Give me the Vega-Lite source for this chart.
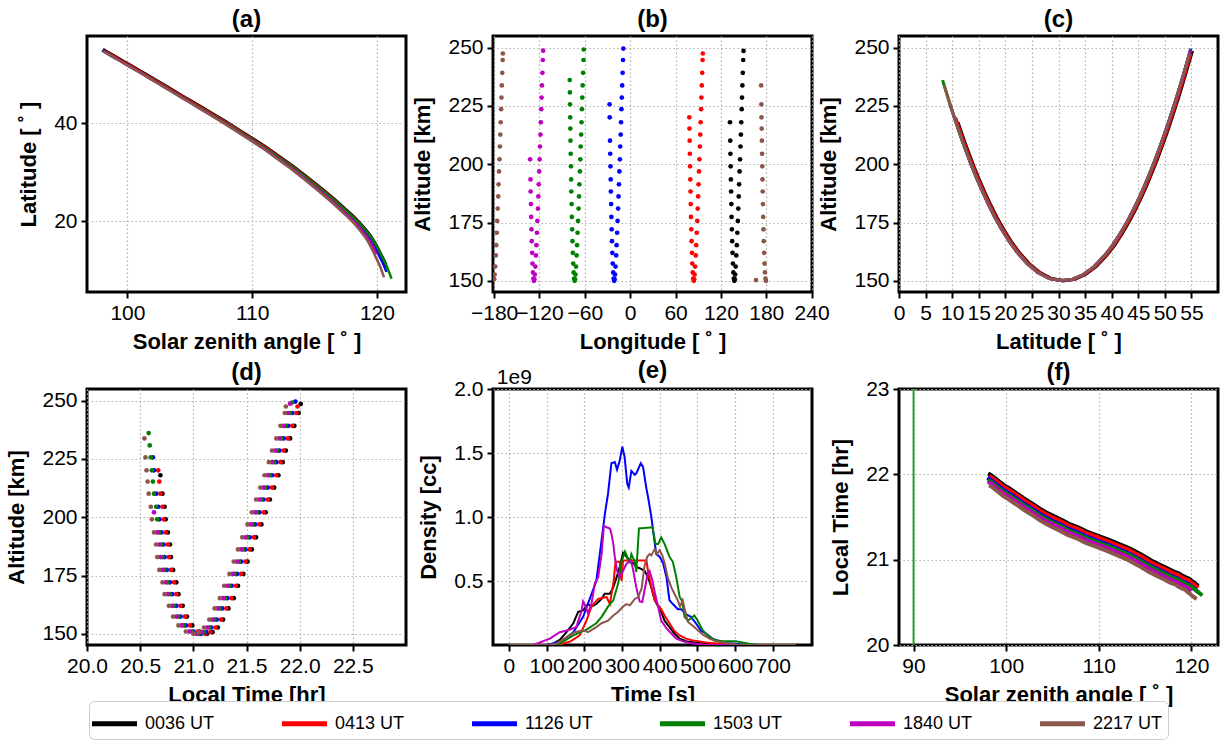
{
"$schema": "https://vega.github.io/schema/vega-lite/v6.json",
"background": "white",
"padding": {"left": 4, "top": 6, "right": 5, "bottom": 5},
"config": {
  "font": "Liberation Sans",
  "view": {"stroke": "black", "strokeWidth": 3},
  "title": {"fontSize": 24, "fontWeight": "bold", "offset": 4, "color": "black"},
  "axis": {"labelFontSize": 21, "titleFontSize": 22, "titleFontWeight": "bold", "labelColor": "black", "titleColor": "black", "tickColor": "black", "tickWidth": 2, "tickSize": 6, "labelPadding": 4, "titlePadding": 8, "domain": false, "grid": true, "gridColor": "#b0b0b0", "gridDash": [1.5, 2.5], "gridWidth": 1.2, "labelOverlap": false, "labelFlush": false, "labelBound": false},
  "axisY": {"titlePadding": 13}
},
"datasets": {
"trk": [
{"s":"0036 UT","lat":11.1,"alt":218.0,"lon":132.0,"lt":20.69,"sza":120.75},
{"s":"0036 UT","lat":12.3,"alt":210.1,"lon":132.4,"lt":20.71,"sza":120.52},
{"s":"0036 UT","lat":13.2,"alt":204.5,"lon":132.6,"lt":20.73,"sza":120.34},
{"s":"0036 UT","lat":14.1,"alt":199.1,"lon":132.9,"lt":20.74,"sza":120.16},
{"s":"0036 UT","lat":15.1,"alt":193.5,"lon":133.2,"lt":20.76,"sza":119.96},
{"s":"0036 UT","lat":16.1,"alt":188.3,"lon":133.5,"lt":20.78,"sza":119.73},
{"s":"0036 UT","lat":17.2,"alt":182.9,"lon":133.8,"lt":20.79,"sza":119.45},
{"s":"0036 UT","lat":18.4,"alt":177.4,"lon":134.1,"lt":20.81,"sza":119.07},
{"s":"0036 UT","lat":19.7,"alt":172.1,"lon":134.5,"lt":20.84,"sza":118.63},
{"s":"0036 UT","lat":21.1,"alt":167.0,"lon":134.9,"lt":20.86,"sza":118.09},
{"s":"0036 UT","lat":22.7,"alt":162.0,"lon":135.4,"lt":20.90,"sza":117.39},
{"s":"0036 UT","lat":24.5,"alt":157.4,"lon":135.9,"lt":20.94,"sza":116.60},
{"s":"0036 UT","lat":26.5,"alt":153.6,"lon":136.5,"lt":20.99,"sza":115.66},
{"s":"0036 UT","lat":28.7,"alt":151.0,"lon":137.1,"lt":21.06,"sza":114.58},
{"s":"0036 UT","lat":31.1,"alt":150.0,"lon":137.8,"lt":21.13,"sza":113.37},
{"s":"0036 UT","lat":33.1,"alt":150.7,"lon":138.3,"lt":21.18,"sza":112.27},
{"s":"0036 UT","lat":35.1,"alt":152.7,"lon":138.9,"lt":21.23,"sza":111.17},
{"s":"0036 UT","lat":37.1,"alt":156.1,"lon":139.6,"lt":21.28,"sza":109.95},
{"s":"0036 UT","lat":39.1,"alt":160.9,"lon":140.4,"lt":21.33,"sza":108.71},
{"s":"0036 UT","lat":40.6,"alt":165.3,"lon":141.0,"lt":21.38,"sza":107.77},
{"s":"0036 UT","lat":42.1,"alt":170.6,"lon":141.7,"lt":21.42,"sza":106.78},
{"s":"0036 UT","lat":43.4,"alt":175.7,"lon":142.4,"lt":21.47,"sza":105.92},
{"s":"0036 UT","lat":44.6,"alt":181.0,"lon":143.0,"lt":21.51,"sza":105.13},
{"s":"0036 UT","lat":45.7,"alt":186.2,"lon":143.6,"lt":21.55,"sza":104.40},
{"s":"0036 UT","lat":46.7,"alt":191.4,"lon":144.1,"lt":21.59,"sza":103.74},
{"s":"0036 UT","lat":47.7,"alt":196.9,"lon":144.7,"lt":21.64,"sza":103.08},
{"s":"0036 UT","lat":48.6,"alt":202.1,"lon":145.3,"lt":21.68,"sza":102.49},
{"s":"0036 UT","lat":49.5,"alt":207.6,"lon":145.9,"lt":21.72,"sza":101.89},
{"s":"0036 UT","lat":50.3,"alt":212.7,"lon":146.4,"lt":21.76,"sza":101.37},
{"s":"0036 UT","lat":51.1,"alt":218.0,"lon":146.9,"lt":21.80,"sza":100.82},
{"s":"0036 UT","lat":51.9,"alt":223.6,"lon":147.5,"lt":21.84,"sza":100.28},
{"s":"0036 UT","lat":52.6,"alt":228.6,"lon":147.9,"lt":21.87,"sza":99.80},
{"s":"0036 UT","lat":53.3,"alt":233.8,"lon":148.4,"lt":21.91,"sza":99.33},
{"s":"0036 UT","lat":54.0,"alt":239.2,"lon":149.0,"lt":21.95,"sza":98.85},
{"s":"0036 UT","lat":54.7,"alt":244.7,"lon":149.5,"lt":21.99,"sza":98.38},
{"s":"0036 UT","lat":55.2,"alt":248.6,"lon":149.9,"lt":22.01,"sza":98.05},
{"s":"0413 UT","lat":10.65,"alt":220.1,"lon":78.2,"lt":20.67,"sza":120.74},
{"s":"0413 UT","lat":11.35,"alt":215.3,"lon":78.4,"lt":20.68,"sza":120.63},
{"s":"0413 UT","lat":12.15,"alt":210.1,"lon":78.7,"lt":20.69,"sza":120.47},
{"s":"0413 UT","lat":13.05,"alt":204.5,"lon":78.9,"lt":20.71,"sza":120.29},
{"s":"0413 UT","lat":13.95,"alt":199.1,"lon":79.2,"lt":20.72,"sza":120.11},
{"s":"0413 UT","lat":14.95,"alt":193.5,"lon":79.5,"lt":20.74,"sza":119.92},
{"s":"0413 UT","lat":15.95,"alt":188.3,"lon":79.8,"lt":20.76,"sza":119.69},
{"s":"0413 UT","lat":17.05,"alt":182.9,"lon":80.1,"lt":20.77,"sza":119.41},
{"s":"0413 UT","lat":18.25,"alt":177.4,"lon":80.4,"lt":20.79,"sza":119.03},
{"s":"0413 UT","lat":19.55,"alt":172.1,"lon":80.8,"lt":20.82,"sza":118.59},
{"s":"0413 UT","lat":20.95,"alt":167.0,"lon":81.2,"lt":20.84,"sza":118.05},
{"s":"0413 UT","lat":22.55,"alt":162.0,"lon":81.7,"lt":20.88,"sza":117.35},
{"s":"0413 UT","lat":24.35,"alt":157.4,"lon":82.2,"lt":20.92,"sza":116.57},
{"s":"0413 UT","lat":26.35,"alt":153.6,"lon":82.8,"lt":20.97,"sza":115.63},
{"s":"0413 UT","lat":28.55,"alt":151.0,"lon":83.4,"lt":21.04,"sza":114.55},
{"s":"0413 UT","lat":30.95,"alt":150.0,"lon":84.1,"lt":21.11,"sza":113.34},
{"s":"0413 UT","lat":32.95,"alt":150.7,"lon":84.6,"lt":21.16,"sza":112.25},
{"s":"0413 UT","lat":34.95,"alt":152.7,"lon":85.2,"lt":21.21,"sza":111.15},
{"s":"0413 UT","lat":36.95,"alt":156.1,"lon":85.9,"lt":21.26,"sza":109.93},
{"s":"0413 UT","lat":38.95,"alt":160.9,"lon":86.7,"lt":21.31,"sza":108.69},
{"s":"0413 UT","lat":40.45,"alt":165.3,"lon":87.3,"lt":21.36,"sza":107.75},
{"s":"0413 UT","lat":41.95,"alt":170.6,"lon":88.0,"lt":21.40,"sza":106.77},
{"s":"0413 UT","lat":43.25,"alt":175.7,"lon":88.7,"lt":21.45,"sza":105.91},
{"s":"0413 UT","lat":44.45,"alt":181.0,"lon":89.3,"lt":21.49,"sza":105.12},
{"s":"0413 UT","lat":45.55,"alt":186.2,"lon":89.9,"lt":21.53,"sza":104.39},
{"s":"0413 UT","lat":46.55,"alt":191.4,"lon":90.4,"lt":21.57,"sza":103.73},
{"s":"0413 UT","lat":47.55,"alt":196.9,"lon":91.0,"lt":21.62,"sza":103.07},
{"s":"0413 UT","lat":48.45,"alt":202.1,"lon":91.6,"lt":21.66,"sza":102.48},
{"s":"0413 UT","lat":49.35,"alt":207.6,"lon":92.2,"lt":21.70,"sza":101.88},
{"s":"0413 UT","lat":50.15,"alt":212.7,"lon":92.7,"lt":21.74,"sza":101.36},
{"s":"0413 UT","lat":50.95,"alt":218.0,"lon":93.2,"lt":21.78,"sza":100.82},
{"s":"0413 UT","lat":51.75,"alt":223.6,"lon":93.8,"lt":21.82,"sza":100.28},
{"s":"0413 UT","lat":52.45,"alt":228.6,"lon":94.2,"lt":21.85,"sza":99.80},
{"s":"0413 UT","lat":53.15,"alt":233.8,"lon":94.7,"lt":21.89,"sza":99.33},
{"s":"0413 UT","lat":53.85,"alt":239.2,"lon":95.3,"lt":21.93,"sza":98.85},
{"s":"0413 UT","lat":54.55,"alt":244.7,"lon":95.8,"lt":21.97,"sza":98.38},
{"s":"0413 UT","lat":54.9,"alt":247.5,"lon":96.1,"lt":21.98,"sza":98.14},
{"s":"1126 UT","lat":9.6,"alt":225.7,"lon":-27.3,"lt":20.62,"sza":120.76},
{"s":"1126 UT","lat":10.4,"alt":220.1,"lon":-27.1,"lt":20.63,"sza":120.64},
{"s":"1126 UT","lat":11.9,"alt":210.1,"lon":-26.7,"lt":20.65,"sza":120.38},
{"s":"1126 UT","lat":12.8,"alt":204.5,"lon":-26.4,"lt":20.67,"sza":120.20},
{"s":"1126 UT","lat":13.7,"alt":199.1,"lon":-26.1,"lt":20.68,"sza":120.02},
{"s":"1126 UT","lat":14.7,"alt":193.5,"lon":-25.8,"lt":20.70,"sza":119.83},
{"s":"1126 UT","lat":15.7,"alt":188.3,"lon":-25.6,"lt":20.72,"sza":119.60},
{"s":"1126 UT","lat":16.8,"alt":182.9,"lon":-25.2,"lt":20.73,"sza":119.32},
{"s":"1126 UT","lat":18.0,"alt":177.4,"lon":-24.9,"lt":20.75,"sza":118.95},
{"s":"1126 UT","lat":19.3,"alt":172.1,"lon":-24.5,"lt":20.78,"sza":118.51},
{"s":"1126 UT","lat":20.7,"alt":167.0,"lon":-24.1,"lt":20.80,"sza":117.98},
{"s":"1126 UT","lat":22.3,"alt":162.0,"lon":-23.6,"lt":20.84,"sza":117.28},
{"s":"1126 UT","lat":24.1,"alt":157.4,"lon":-23.1,"lt":20.88,"sza":116.50},
{"s":"1126 UT","lat":26.1,"alt":153.6,"lon":-22.5,"lt":20.93,"sza":115.56},
{"s":"1126 UT","lat":28.3,"alt":151.0,"lon":-21.9,"lt":21.00,"sza":114.49},
{"s":"1126 UT","lat":30.7,"alt":150.0,"lon":-21.2,"lt":21.07,"sza":113.29},
{"s":"1126 UT","lat":32.7,"alt":150.7,"lon":-20.7,"lt":21.12,"sza":112.20},
{"s":"1126 UT","lat":34.7,"alt":152.7,"lon":-20.1,"lt":21.17,"sza":111.10},
{"s":"1126 UT","lat":36.7,"alt":156.1,"lon":-19.4,"lt":21.22,"sza":109.89},
{"s":"1126 UT","lat":38.7,"alt":160.9,"lon":-18.6,"lt":21.27,"sza":108.66},
{"s":"1126 UT","lat":40.2,"alt":165.3,"lon":-18.0,"lt":21.32,"sza":107.72},
{"s":"1126 UT","lat":41.7,"alt":170.6,"lon":-17.3,"lt":21.36,"sza":106.74},
{"s":"1126 UT","lat":43.0,"alt":175.7,"lon":-16.7,"lt":21.41,"sza":105.88},
{"s":"1126 UT","lat":44.2,"alt":181.0,"lon":-16.0,"lt":21.45,"sza":105.09},
{"s":"1126 UT","lat":45.3,"alt":186.2,"lon":-15.4,"lt":21.49,"sza":104.37},
{"s":"1126 UT","lat":46.3,"alt":191.4,"lon":-14.9,"lt":21.53,"sza":103.71},
{"s":"1126 UT","lat":47.3,"alt":196.9,"lon":-14.3,"lt":21.58,"sza":103.05},
{"s":"1126 UT","lat":48.2,"alt":202.1,"lon":-13.7,"lt":21.62,"sza":102.47},
{"s":"1126 UT","lat":49.1,"alt":207.6,"lon":-13.2,"lt":21.66,"sza":101.87},
{"s":"1126 UT","lat":49.9,"alt":212.7,"lon":-12.6,"lt":21.70,"sza":101.35},
{"s":"1126 UT","lat":50.7,"alt":218.0,"lon":-12.1,"lt":21.74,"sza":100.81},
{"s":"1126 UT","lat":51.5,"alt":223.6,"lon":-11.6,"lt":21.78,"sza":100.27},
{"s":"1126 UT","lat":52.2,"alt":228.6,"lon":-11.1,"lt":21.81,"sza":99.79},
{"s":"1126 UT","lat":52.9,"alt":233.8,"lon":-10.6,"lt":21.85,"sza":99.32},
{"s":"1126 UT","lat":53.6,"alt":239.2,"lon":-10.0,"lt":21.89,"sza":98.85},
{"s":"1126 UT","lat":54.3,"alt":244.7,"lon":-9.5,"lt":21.93,"sza":98.38},
{"s":"1126 UT","lat":54.9,"alt":249.6,"lon":-9.1,"lt":21.96,"sza":97.97},
{"s":"1503 UT","lat":8.2,"alt":236.1,"lon":-80.0,"lt":20.58,"sza":121.17},
{"s":"1503 UT","lat":8.9,"alt":230.8,"lon":-79.8,"lt":20.59,"sza":121.07},
{"s":"1503 UT","lat":9.6,"alt":225.7,"lon":-79.6,"lt":20.60,"sza":120.96},
{"s":"1503 UT","lat":10.4,"alt":220.1,"lon":-79.4,"lt":20.61,"sza":120.84},
{"s":"1503 UT","lat":11.1,"alt":215.3,"lon":-79.2,"lt":20.62,"sza":120.73},
{"s":"1503 UT","lat":11.9,"alt":210.1,"lon":-79.0,"lt":20.63,"sza":120.57},
{"s":"1503 UT","lat":12.8,"alt":204.5,"lon":-78.7,"lt":20.65,"sza":120.39},
{"s":"1503 UT","lat":13.7,"alt":199.1,"lon":-78.4,"lt":20.66,"sza":120.21},
{"s":"1503 UT","lat":14.7,"alt":193.5,"lon":-78.1,"lt":20.68,"sza":120.01},
{"s":"1503 UT","lat":15.7,"alt":188.3,"lon":-77.9,"lt":20.70,"sza":119.77},
{"s":"1503 UT","lat":16.8,"alt":182.9,"lon":-77.5,"lt":20.71,"sza":119.49},
{"s":"1503 UT","lat":18.0,"alt":177.4,"lon":-77.2,"lt":20.73,"sza":119.11},
{"s":"1503 UT","lat":19.3,"alt":172.1,"lon":-76.8,"lt":20.76,"sza":118.67},
{"s":"1503 UT","lat":20.7,"alt":167.0,"lon":-76.4,"lt":20.78,"sza":118.13},
{"s":"1503 UT","lat":22.3,"alt":162.0,"lon":-75.9,"lt":20.82,"sza":117.43},
{"s":"1503 UT","lat":24.1,"alt":157.4,"lon":-75.4,"lt":20.86,"sza":116.63},
{"s":"1503 UT","lat":26.1,"alt":153.6,"lon":-74.8,"lt":20.91,"sza":115.69},
{"s":"1503 UT","lat":28.3,"alt":151.0,"lon":-74.2,"lt":20.98,"sza":114.61},
{"s":"1503 UT","lat":30.7,"alt":150.0,"lon":-73.5,"lt":21.05,"sza":113.40},
{"s":"1503 UT","lat":32.7,"alt":150.7,"lon":-73.0,"lt":21.10,"sza":112.30},
{"s":"1503 UT","lat":34.7,"alt":152.7,"lon":-72.4,"lt":21.15,"sza":111.19},
{"s":"1503 UT","lat":36.7,"alt":156.1,"lon":-71.7,"lt":21.20,"sza":109.97},
{"s":"1503 UT","lat":38.7,"alt":160.9,"lon":-70.9,"lt":21.25,"sza":108.73},
{"s":"1503 UT","lat":40.2,"alt":165.3,"lon":-70.3,"lt":21.30,"sza":107.79},
{"s":"1503 UT","lat":41.7,"alt":170.6,"lon":-69.6,"lt":21.34,"sza":106.80},
{"s":"1503 UT","lat":43.0,"alt":175.7,"lon":-69.0,"lt":21.39,"sza":105.93},
{"s":"1503 UT","lat":44.2,"alt":181.0,"lon":-68.3,"lt":21.43,"sza":105.14},
{"s":"1503 UT","lat":45.3,"alt":186.2,"lon":-67.7,"lt":21.47,"sza":104.41},
{"s":"1503 UT","lat":46.3,"alt":191.4,"lon":-67.2,"lt":21.51,"sza":103.75},
{"s":"1503 UT","lat":47.3,"alt":196.9,"lon":-66.6,"lt":21.56,"sza":103.09},
{"s":"1503 UT","lat":48.2,"alt":202.1,"lon":-66.0,"lt":21.60,"sza":102.50},
{"s":"1503 UT","lat":49.1,"alt":207.6,"lon":-65.5,"lt":21.64,"sza":101.90},
{"s":"1503 UT","lat":49.9,"alt":212.7,"lon":-64.9,"lt":21.68,"sza":101.38},
{"s":"1503 UT","lat":50.7,"alt":218.0,"lon":-64.4,"lt":21.72,"sza":100.83},
{"s":"1503 UT","lat":51.5,"alt":223.6,"lon":-63.9,"lt":21.76,"sza":100.28},
{"s":"1503 UT","lat":52.2,"alt":228.6,"lon":-63.4,"lt":21.79,"sza":99.80},
{"s":"1503 UT","lat":52.9,"alt":233.8,"lon":-62.9,"lt":21.83,"sza":99.33},
{"s":"1503 UT","lat":53.6,"alt":239.2,"lon":-62.3,"lt":21.87,"sza":98.85},
{"s":"1503 UT","lat":54.3,"alt":244.7,"lon":-61.8,"lt":21.91,"sza":98.38},
{"s":"1503 UT","lat":54.86,"alt":249.2,"lon":-61.4,"lt":21.93,"sza":98.00},
{"s":"1840 UT","lat":13.2,"alt":202.1,"lon":-132.4,"lt":20.63,"sza":119.98},
{"s":"1840 UT","lat":14.7,"alt":193.5,"lon":-131.9,"lt":20.66,"sza":119.69},
{"s":"1840 UT","lat":15.7,"alt":188.3,"lon":-131.7,"lt":20.68,"sza":119.47},
{"s":"1840 UT","lat":16.8,"alt":182.9,"lon":-131.3,"lt":20.69,"sza":119.20},
{"s":"1840 UT","lat":18.0,"alt":177.4,"lon":-131.0,"lt":20.71,"sza":118.82},
{"s":"1840 UT","lat":19.3,"alt":172.1,"lon":-130.6,"lt":20.74,"sza":118.39},
{"s":"1840 UT","lat":20.7,"alt":167.0,"lon":-130.2,"lt":20.76,"sza":117.86},
{"s":"1840 UT","lat":22.3,"alt":162.0,"lon":-129.7,"lt":20.80,"sza":117.17},
{"s":"1840 UT","lat":24.1,"alt":157.4,"lon":-129.2,"lt":20.84,"sza":116.39},
{"s":"1840 UT","lat":26.1,"alt":153.6,"lon":-128.6,"lt":20.89,"sza":115.47},
{"s":"1840 UT","lat":28.3,"alt":151.0,"lon":-128.0,"lt":20.96,"sza":114.40},
{"s":"1840 UT","lat":30.7,"alt":150.0,"lon":-127.3,"lt":21.03,"sza":113.21},
{"s":"1840 UT","lat":32.7,"alt":150.7,"lon":-126.8,"lt":21.08,"sza":112.12},
{"s":"1840 UT","lat":34.7,"alt":152.7,"lon":-126.2,"lt":21.13,"sza":111.04},
{"s":"1840 UT","lat":36.7,"alt":156.1,"lon":-125.5,"lt":21.18,"sza":109.83},
{"s":"1840 UT","lat":38.7,"alt":160.9,"lon":-124.7,"lt":21.23,"sza":108.60},
{"s":"1840 UT","lat":40.2,"alt":165.3,"lon":-124.1,"lt":21.28,"sza":107.67},
{"s":"1840 UT","lat":41.7,"alt":170.6,"lon":-123.4,"lt":21.32,"sza":106.69},
{"s":"1840 UT","lat":43.0,"alt":175.7,"lon":-122.8,"lt":21.37,"sza":105.84},
{"s":"1840 UT","lat":44.2,"alt":181.0,"lon":-122.1,"lt":21.41,"sza":105.06},
{"s":"1840 UT","lat":45.3,"alt":186.2,"lon":-121.5,"lt":21.45,"sza":104.33},
{"s":"1840 UT","lat":46.3,"alt":191.4,"lon":-121.0,"lt":21.49,"sza":103.68},
{"s":"1840 UT","lat":47.3,"alt":196.9,"lon":-120.4,"lt":21.54,"sza":103.03},
{"s":"1840 UT","lat":48.2,"alt":202.1,"lon":-119.8,"lt":21.58,"sza":102.45},
{"s":"1840 UT","lat":49.1,"alt":207.6,"lon":-119.3,"lt":21.62,"sza":101.85},
{"s":"1840 UT","lat":49.9,"alt":212.7,"lon":-118.7,"lt":21.66,"sza":101.34},
{"s":"1840 UT","lat":50.7,"alt":218.0,"lon":-118.2,"lt":21.70,"sza":100.79},
{"s":"1840 UT","lat":51.5,"alt":223.6,"lon":-117.7,"lt":21.74,"sza":100.26},
{"s":"1840 UT","lat":52.2,"alt":228.6,"lon":-117.2,"lt":21.77,"sza":99.78},
{"s":"1840 UT","lat":52.9,"alt":233.8,"lon":-116.7,"lt":21.81,"sza":99.32},
{"s":"1840 UT","lat":53.6,"alt":239.2,"lon":-116.1,"lt":21.85,"sza":98.84},
{"s":"1840 UT","lat":54.3,"alt":244.7,"lon":-115.6,"lt":21.89,"sza":98.37},
{"s":"1840 UT","lat":54.8,"alt":248.7,"lon":-115.2,"lt":21.91,"sza":98.04},
{"s":"2217 UT","lat":8.5,"alt":233.8,"lon":173.2,"lt":20.54,"sza":120.57},
{"s":"2217 UT","lat":9.6,"alt":225.7,"lon":173.5,"lt":20.55,"sza":120.41},
{"s":"2217 UT","lat":10.4,"alt":220.1,"lon":173.7,"lt":20.56,"sza":120.30},
{"s":"2217 UT","lat":11.1,"alt":215.3,"lon":173.9,"lt":20.57,"sza":120.19},
{"s":"2217 UT","lat":11.9,"alt":210.1,"lon":174.2,"lt":20.58,"sza":120.04},
{"s":"2217 UT","lat":12.8,"alt":204.5,"lon":174.4,"lt":20.60,"sza":119.87},
{"s":"2217 UT","lat":13.7,"alt":199.1,"lon":174.7,"lt":20.61,"sza":119.70},
{"s":"2217 UT","lat":14.7,"alt":193.5,"lon":175.0,"lt":20.63,"sza":119.51},
{"s":"2217 UT","lat":15.7,"alt":188.3,"lon":175.3,"lt":20.65,"sza":119.30},
{"s":"2217 UT","lat":16.8,"alt":182.9,"lon":175.6,"lt":20.66,"sza":119.03},
{"s":"2217 UT","lat":18.0,"alt":177.4,"lon":175.9,"lt":20.68,"sza":118.66},
{"s":"2217 UT","lat":19.3,"alt":172.1,"lon":176.3,"lt":20.71,"sza":118.24},
{"s":"2217 UT","lat":20.7,"alt":167.0,"lon":176.7,"lt":20.73,"sza":117.71},
{"s":"2217 UT","lat":22.3,"alt":162.0,"lon":177.2,"lt":20.77,"sza":117.03},
{"s":"2217 UT","lat":24.1,"alt":157.4,"lon":177.7,"lt":20.81,"sza":116.26},
{"s":"2217 UT","lat":26.1,"alt":153.6,"lon":178.3,"lt":20.86,"sza":115.34},
{"s":"2217 UT","lat":28.3,"alt":151.0,"lon":178.9,"lt":20.93,"sza":114.29},
{"s":"2217 UT","lat":30.7,"alt":150.0,"lon":179.6,"lt":21.00,"sza":113.10},
{"s":"2217 UT","lat":30.7,"alt":150.3,"lon":166.4,"lt":21.00,"sza":113.10},
{"s":"2217 UT","lat":32.7,"alt":150.7,"lon":-179.9,"lt":21.05,"sza":112.02},
{"s":"2217 UT","lat":34.7,"alt":152.7,"lon":-179.3,"lt":21.10,"sza":110.95},
{"s":"2217 UT","lat":36.7,"alt":156.1,"lon":-178.6,"lt":21.15,"sza":109.75},
{"s":"2217 UT","lat":38.7,"alt":160.9,"lon":-177.8,"lt":21.20,"sza":108.53},
{"s":"2217 UT","lat":40.2,"alt":165.3,"lon":-177.2,"lt":21.25,"sza":107.61},
{"s":"2217 UT","lat":41.7,"alt":170.6,"lon":-176.5,"lt":21.29,"sza":106.63},
{"s":"2217 UT","lat":43.0,"alt":175.7,"lon":-175.9,"lt":21.34,"sza":105.79},
{"s":"2217 UT","lat":44.2,"alt":181.0,"lon":-175.2,"lt":21.38,"sza":105.01},
{"s":"2217 UT","lat":45.3,"alt":186.2,"lon":-174.6,"lt":21.42,"sza":104.29},
{"s":"2217 UT","lat":46.3,"alt":191.4,"lon":-174.1,"lt":21.46,"sza":103.65},
{"s":"2217 UT","lat":47.3,"alt":196.9,"lon":-173.5,"lt":21.51,"sza":103.00},
{"s":"2217 UT","lat":48.2,"alt":202.1,"lon":-172.9,"lt":21.55,"sza":102.42},
{"s":"2217 UT","lat":49.1,"alt":207.6,"lon":-172.4,"lt":21.59,"sza":101.83},
{"s":"2217 UT","lat":49.9,"alt":212.7,"lon":-171.8,"lt":21.63,"sza":101.32},
{"s":"2217 UT","lat":50.7,"alt":218.0,"lon":-171.3,"lt":21.67,"sza":100.77},
{"s":"2217 UT","lat":51.5,"alt":223.6,"lon":-170.8,"lt":21.71,"sza":100.24},
{"s":"2217 UT","lat":52.2,"alt":228.6,"lon":-170.3,"lt":21.74,"sza":99.77},
{"s":"2217 UT","lat":52.9,"alt":233.8,"lon":-169.8,"lt":21.78,"sza":99.31},
{"s":"2217 UT","lat":53.6,"alt":239.2,"lon":-169.2,"lt":21.82,"sza":98.84},
{"s":"2217 UT","lat":54.3,"alt":244.7,"lon":-168.7,"lt":21.86,"sza":98.37},
{"s":"2217 UT","lat":54.65,"alt":247.5,"lon":-168.5,"lt":21.87,"sza":98.14}
],
"den": [
{"s":"0036 UT","t":0,"n":0},{"s":"0036 UT","t":100,"n":0},{"s":"0036 UT","t":118,"n":0.01},{"s":"0036 UT","t":135,"n":0.04},{"s":"0036 UT","t":153,"n":0.1},{"s":"0036 UT","t":171,"n":0.17},{"s":"0036 UT","t":184,"n":0.26},{"s":"0036 UT","t":197,"n":0.27},{"s":"0036 UT","t":210,"n":0.32},{"s":"0036 UT","t":219,"n":0.3},{"s":"0036 UT","t":232,"n":0.32},{"s":"0036 UT","t":246,"n":0.36},{"s":"0036 UT","t":254,"n":0.4},{"s":"0036 UT","t":268,"n":0.4},{"s":"0036 UT","t":277,"n":0.45},{"s":"0036 UT","t":286,"n":0.53},{"s":"0036 UT","t":294,"n":0.61},{"s":"0036 UT","t":303,"n":0.72},{"s":"0036 UT","t":312,"n":0.69},{"s":"0036 UT","t":321,"n":0.65},{"s":"0036 UT","t":330,"n":0.64},{"s":"0036 UT","t":338,"n":0.61},{"s":"0036 UT","t":347,"n":0.6},{"s":"0036 UT","t":360,"n":0.58},{"s":"0036 UT","t":369,"n":0.53},{"s":"0036 UT","t":378,"n":0.45},{"s":"0036 UT","t":387,"n":0.35},{"s":"0036 UT","t":396,"n":0.3},{"s":"0036 UT","t":404,"n":0.26},{"s":"0036 UT","t":413,"n":0.19},{"s":"0036 UT","t":426,"n":0.14},{"s":"0036 UT","t":439,"n":0.09},{"s":"0036 UT","t":453,"n":0.05},{"s":"0036 UT","t":470,"n":0.03},{"s":"0036 UT","t":496,"n":0.018},{"s":"0036 UT","t":523,"n":0.01},{"s":"0036 UT","t":549,"n":0},{"s":"0036 UT","t":760,"n":0},
{"s":"0413 UT","t":0,"n":0},{"s":"0413 UT","t":120,"n":0},{"s":"0413 UT","t":144,"n":0.01},{"s":"0413 UT","t":165,"n":0.03},{"s":"0413 UT","t":188,"n":0.075},{"s":"0413 UT","t":206,"n":0.19},{"s":"0413 UT","t":219,"n":0.3},{"s":"0413 UT","t":237,"n":0.36},{"s":"0413 UT","t":259,"n":0.375},{"s":"0413 UT","t":268,"n":0.32},{"s":"0413 UT","t":278,"n":0.5},{"s":"0413 UT","t":283,"n":0.65},{"s":"0413 UT","t":294,"n":0.65},{"s":"0413 UT","t":299,"n":0.5},{"s":"0413 UT","t":303,"n":0.66},{"s":"0413 UT","t":365,"n":0.66},{"s":"0413 UT","t":369,"n":0.58},{"s":"0413 UT","t":378,"n":0.45},{"s":"0413 UT","t":387,"n":0.35},{"s":"0413 UT","t":396,"n":0.31},{"s":"0413 UT","t":404,"n":0.28},{"s":"0413 UT","t":413,"n":0.23},{"s":"0413 UT","t":426,"n":0.17},{"s":"0413 UT","t":439,"n":0.11},{"s":"0413 UT","t":453,"n":0.075},{"s":"0413 UT","t":470,"n":0.05},{"s":"0413 UT","t":488,"n":0.036},{"s":"0413 UT","t":523,"n":0.02},{"s":"0413 UT","t":558,"n":0.01},{"s":"0413 UT","t":584,"n":0},{"s":"0413 UT","t":760,"n":0},
{"s":"1126 UT","t":0,"n":0},{"s":"1126 UT","t":100,"n":0},{"s":"1126 UT","t":140,"n":0.03},{"s":"1126 UT","t":171,"n":0.1},{"s":"1126 UT","t":197,"n":0.22},{"s":"1126 UT","t":232,"n":0.5},{"s":"1126 UT","t":246,"n":0.82},{"s":"1126 UT","t":255,"n":1.03},{"s":"1126 UT","t":263,"n":1.18},{"s":"1126 UT","t":272,"n":1.42},{"s":"1126 UT","t":281,"n":1.43},{"s":"1126 UT","t":287,"n":1.37},{"s":"1126 UT","t":294,"n":1.44},{"s":"1126 UT","t":301,"n":1.55},{"s":"1126 UT","t":307,"n":1.47},{"s":"1126 UT","t":314,"n":1.26},{"s":"1126 UT","t":318,"n":1.23},{"s":"1126 UT","t":325,"n":1.36},{"s":"1126 UT","t":334,"n":1.33},{"s":"1126 UT","t":338,"n":1.34},{"s":"1126 UT","t":350,"n":1.42},{"s":"1126 UT","t":356,"n":1.39},{"s":"1126 UT","t":365,"n":1.22},{"s":"1126 UT","t":369,"n":1.16},{"s":"1126 UT","t":378,"n":1.0},{"s":"1126 UT","t":386,"n":0.82},{"s":"1126 UT","t":391,"n":0.71},{"s":"1126 UT","t":400,"n":0.69},{"s":"1126 UT","t":409,"n":0.64},{"s":"1126 UT","t":418,"n":0.53},{"s":"1126 UT","t":426,"n":0.35},{"s":"1126 UT","t":435,"n":0.32},{"s":"1126 UT","t":448,"n":0.28},{"s":"1126 UT","t":457,"n":0.28},{"s":"1126 UT","t":470,"n":0.24},{"s":"1126 UT","t":483,"n":0.22},{"s":"1126 UT","t":496,"n":0.17},{"s":"1126 UT","t":510,"n":0.11},{"s":"1126 UT","t":523,"n":0.09},{"s":"1126 UT","t":540,"n":0.05},{"s":"1126 UT","t":558,"n":0.03},{"s":"1126 UT","t":575,"n":0.015},{"s":"1126 UT","t":602,"n":0.01},{"s":"1126 UT","t":628,"n":0},{"s":"1126 UT","t":760,"n":0},
{"s":"1503 UT","t":0,"n":0},{"s":"1503 UT","t":110,"n":0},{"s":"1503 UT","t":135,"n":0.01},{"s":"1503 UT","t":171,"n":0.075},{"s":"1503 UT","t":206,"n":0.12},{"s":"1503 UT","t":232,"n":0.17},{"s":"1503 UT","t":246,"n":0.22},{"s":"1503 UT","t":263,"n":0.3},{"s":"1503 UT","t":277,"n":0.35},{"s":"1503 UT","t":290,"n":0.48},{"s":"1503 UT","t":299,"n":0.65},{"s":"1503 UT","t":308,"n":0.73},{"s":"1503 UT","t":314,"n":0.69},{"s":"1503 UT","t":321,"n":0.65},{"s":"1503 UT","t":325,"n":0.71},{"s":"1503 UT","t":334,"n":0.65},{"s":"1503 UT","t":338,"n":0.57},{"s":"1503 UT","t":345,"n":0.91},{"s":"1503 UT","t":381,"n":0.92},{"s":"1503 UT","t":389,"n":0.79},{"s":"1503 UT","t":396,"n":0.79},{"s":"1503 UT","t":404,"n":0.84},{"s":"1503 UT","t":413,"n":0.79},{"s":"1503 UT","t":426,"n":0.69},{"s":"1503 UT","t":435,"n":0.65},{"s":"1503 UT","t":444,"n":0.53},{"s":"1503 UT","t":453,"n":0.375},{"s":"1503 UT","t":460,"n":0.34},{"s":"1503 UT","t":466,"n":0.22},{"s":"1503 UT","t":475,"n":0.19},{"s":"1503 UT","t":492,"n":0.23},{"s":"1503 UT","t":501,"n":0.19},{"s":"1503 UT","t":514,"n":0.115},{"s":"1503 UT","t":527,"n":0.075},{"s":"1503 UT","t":545,"n":0.04},{"s":"1503 UT","t":567,"n":0.03},{"s":"1503 UT","t":602,"n":0.03},{"s":"1503 UT","t":619,"n":0.02},{"s":"1503 UT","t":637,"n":0.01},{"s":"1503 UT","t":660,"n":0},{"s":"1503 UT","t":760,"n":0},
{"s":"1840 UT","t":0,"n":0},{"s":"1840 UT","t":65,"n":0},{"s":"1840 UT","t":109,"n":0.05},{"s":"1840 UT","t":135,"n":0.1},{"s":"1840 UT","t":157,"n":0.115},{"s":"1840 UT","t":179,"n":0.14},{"s":"1840 UT","t":193,"n":0.27},{"s":"1840 UT","t":197,"n":0.34},{"s":"1840 UT","t":204,"n":0.3},{"s":"1840 UT","t":210,"n":0.25},{"s":"1840 UT","t":219,"n":0.32},{"s":"1840 UT","t":228,"n":0.48},{"s":"1840 UT","t":237,"n":0.53},{"s":"1840 UT","t":246,"n":0.71},{"s":"1840 UT","t":252,"n":0.93},{"s":"1840 UT","t":259,"n":0.92},{"s":"1840 UT","t":268,"n":0.91},{"s":"1840 UT","t":272,"n":0.87},{"s":"1840 UT","t":277,"n":0.79},{"s":"1840 UT","t":281,"n":0.69},{"s":"1840 UT","t":287,"n":0.58},{"s":"1840 UT","t":294,"n":0.53},{"s":"1840 UT","t":303,"n":0.58},{"s":"1840 UT","t":312,"n":0.635},{"s":"1840 UT","t":324,"n":0.66},{"s":"1840 UT","t":330,"n":0.58},{"s":"1840 UT","t":338,"n":0.45},{"s":"1840 UT","t":347,"n":0.34},{"s":"1840 UT","t":354,"n":0.336},{"s":"1840 UT","t":360,"n":0.43},{"s":"1840 UT","t":369,"n":0.57},{"s":"1840 UT","t":373,"n":0.58},{"s":"1840 UT","t":381,"n":0.5},{"s":"1840 UT","t":387,"n":0.41},{"s":"1840 UT","t":396,"n":0.3},{"s":"1840 UT","t":404,"n":0.19},{"s":"1840 UT","t":418,"n":0.13},{"s":"1840 UT","t":431,"n":0.09},{"s":"1840 UT","t":444,"n":0.05},{"s":"1840 UT","t":461,"n":0.03},{"s":"1840 UT","t":479,"n":0.016},{"s":"1840 UT","t":501,"n":0.008},{"s":"1840 UT","t":523,"n":0},{"s":"1840 UT","t":760,"n":0},
{"s":"2217 UT","t":0,"n":0},{"s":"2217 UT","t":100,"n":0},{"s":"2217 UT","t":126,"n":0.01},{"s":"2217 UT","t":153,"n":0.06},{"s":"2217 UT","t":175,"n":0.1},{"s":"2217 UT","t":197,"n":0.115},{"s":"2217 UT","t":210,"n":0.1},{"s":"2217 UT","t":232,"n":0.14},{"s":"2217 UT","t":246,"n":0.17},{"s":"2217 UT","t":263,"n":0.19},{"s":"2217 UT","t":277,"n":0.23},{"s":"2217 UT","t":290,"n":0.26},{"s":"2217 UT","t":303,"n":0.3},{"s":"2217 UT","t":312,"n":0.32},{"s":"2217 UT","t":321,"n":0.31},{"s":"2217 UT","t":334,"n":0.36},{"s":"2217 UT","t":343,"n":0.375},{"s":"2217 UT","t":352,"n":0.44},{"s":"2217 UT","t":360,"n":0.62},{"s":"2217 UT","t":367,"n":0.69},{"s":"2217 UT","t":373,"n":0.71},{"s":"2217 UT","t":378,"n":0.7},{"s":"2217 UT","t":387,"n":0.75},{"s":"2217 UT","t":393,"n":0.71},{"s":"2217 UT","t":400,"n":0.74},{"s":"2217 UT","t":407,"n":0.7},{"s":"2217 UT","t":413,"n":0.64},{"s":"2217 UT","t":422,"n":0.52},{"s":"2217 UT","t":431,"n":0.45},{"s":"2217 UT","t":439,"n":0.4},{"s":"2217 UT","t":448,"n":0.35},{"s":"2217 UT","t":454,"n":0.3},{"s":"2217 UT","t":461,"n":0.35},{"s":"2217 UT","t":468,"n":0.26},{"s":"2217 UT","t":475,"n":0.18},{"s":"2217 UT","t":488,"n":0.15},{"s":"2217 UT","t":501,"n":0.115},{"s":"2217 UT","t":514,"n":0.083},{"s":"2217 UT","t":532,"n":0.05},{"s":"2217 UT","t":549,"n":0.03},{"s":"2217 UT","t":575,"n":0.016},{"s":"2217 UT","t":602,"n":0.005},{"s":"2217 UT","t":620,"n":0},{"s":"2217 UT","t":760,"n":0}
]
},
"columns": 3,
"spacing": {"row": 97, "column": 87},
"bounds": "flush",
"concat": [
{
 "width": 319, "height": 256, "title": "(a)",
 "data": {"name": "trk"},
 "mark": {"type": "line", "strokeWidth": 2.5, "clip": true},
 "encoding": {
  "x": {"field": "sza", "type": "quantitative", "scale": {"domain": [96.76, 122.33], "nice": false, "zero": false}, "axis": {"values": [100, 110, 120], "title": "Solar zenith angle [ ˚ ]"}},
  "y": {"field": "lat", "type": "quantitative", "scale": {"domain": [5.47, 57.87], "nice": false, "zero": false}, "axis": {"values": [20, 40], "title": "Latitude [ ˚ ]"}},
  "color": {"field": "s", "type": "nominal",
   "scale": {"domain": ["0036 UT","0413 UT","1126 UT","1503 UT","1840 UT","2217 UT"], "range": ["#000000","#ff0000","#0000ff","#008000","#bf00bf","#8c564b"]},
   "legend": {"orient": "none", "legendX": 2, "legendY": 665, "direction": "horizontal", "columns": 6, "title": null, "symbolType": "M-1.5,0H1.5", "symbolSize": 900, "symbolStrokeWidth": 5, "symbolOffset": 3, "labelOffset": 13, "labelFontSize": 18, "labelFont": "Liberation Sans", "labelColor": "black", "labelLimit": 200, "columnPadding": 57, "padding": 5, "strokeColor": "#cccccc", "fillColor": "white", "cornerRadius": 5}}
 }
},
{
 "width": 319, "height": 256, "title": "(b)",
 "data": {"name": "trk"},
 "mark": {"type": "point", "filled": true, "size": 22, "opacity": 1, "clip": true},
 "encoding": {
  "x": {"field": "lon", "type": "quantitative", "scale": {"domain": [-181.5, 240.5], "nice": false, "zero": false}, "axis": {"values": [-180, -120, -60, 0, 60, 120, 180, 240], "title": "Longitude [ ˚ ]"}},
  "y": {"field": "alt", "type": "quantitative", "scale": {"domain": [145.2, 255], "nice": false, "zero": false}, "axis": {"values": [150, 175, 200, 225, 250], "title": "Altitude [km]"}},
  "color": {"field": "s", "type": "nominal", "scale": {"domain": ["0036 UT","0413 UT","1126 UT","1503 UT","1840 UT","2217 UT"], "range": ["#000000","#ff0000","#0000ff","#008000","#bf00bf","#8c564b"]}, "legend": null}
 }
},
{
 "width": 319, "height": 256, "title": "(c)",
 "data": {"name": "trk"},
 "mark": {"type": "line", "strokeWidth": 3, "clip": true},
 "encoding": {
  "x": {"field": "lat", "type": "quantitative", "scale": {"domain": [0, 60], "nice": false, "zero": false}, "axis": {"values": [0, 5, 10, 15, 20, 25, 30, 35, 40, 45, 50, 55], "title": "Latitude [ ˚ ]"}},
  "y": {"field": "alt", "type": "quantitative", "scale": {"domain": [145.2, 255], "nice": false, "zero": false}, "axis": {"values": [150, 175, 200, 225, 250], "title": "Altitude [km]"}},
  "color": {"field": "s", "type": "nominal", "scale": {"domain": ["0036 UT","0413 UT","1126 UT","1503 UT","1840 UT","2217 UT"], "range": ["#000000","#ff0000","#0000ff","#008000","#bf00bf","#8c564b"]}, "legend": null}
 }
},
{
 "width": 319, "height": 256, "title": "(d)",
 "data": {"name": "trk"},
 "mark": {"type": "point", "filled": true, "size": 22, "opacity": 1, "clip": true},
 "encoding": {
  "x": {"field": "lt", "type": "quantitative", "scale": {"domain": [20, 23], "nice": false, "zero": false}, "axis": {"values": [20, 20.5, 21, 21.5, 22, 22.5], "format": ".1f", "title": "Local Time [hr]"}},
  "y": {"field": "alt", "type": "quantitative", "scale": {"domain": [145.2, 255], "nice": false, "zero": false}, "axis": {"values": [150, 175, 200, 225, 250], "title": "Altitude [km]"}},
  "color": {"field": "s", "type": "nominal", "scale": {"domain": ["0036 UT","0413 UT","1126 UT","1503 UT","1840 UT","2217 UT"], "range": ["#000000","#ff0000","#0000ff","#008000","#bf00bf","#8c564b"]}, "legend": null}
 }
},
{
 "width": 319, "height": 256, "title": {"text": "(e)", "dy": 20},
 "layer": [
  {
   "data": {"name": "den"},
   "mark": {"type": "line", "strokeWidth": 2, "clip": true},
   "encoding": {
    "x": {"field": "t", "type": "quantitative", "scale": {"domain": [-42, 804], "nice": false, "zero": false}, "axis": {"values": [0, 100, 200, 300, 400, 500, 600, 700], "title": "Time [s]"}},
    "y": {"field": "n", "type": "quantitative", "scale": {"domain": [0, 2], "nice": false, "zero": false}, "axis": {"values": [0.5, 1, 1.5, 2], "format": ".1f", "title": "Density [cc]"}},
    "color": {"field": "s", "type": "nominal", "scale": {"domain": ["0036 UT","0413 UT","1126 UT","1503 UT","1840 UT","2217 UT"], "range": ["#000000","#ff0000","#0000ff","#008000","#bf00bf","#8c564b"]}, "legend": null}
   }
  },
  {
   "data": {"values": [{}]},
   "mark": {"type": "text", "text": "1e9", "align": "left", "baseline": "alphabetic", "dy": -5, "fontSize": 21, "color": "black"},
   "encoding": {"x": {"datum": -32}, "y": {"datum": 2}}
  }
 ]
},
{
 "width": 319, "height": 256, "title": {"text": "(f)", "dy": 11},
 "layer": [
  {
   "data": {"values": [{}]},
   "mark": {"type": "rule", "color": "#2ca02c", "strokeWidth": 2},
   "encoding": {"x": {"datum": 90}}
  },
  {
   "data": {"name": "trk"},
   "mark": {"type": "line", "strokeWidth": 4, "clip": true},
   "encoding": {
    "x": {"field": "sza", "type": "quantitative", "scale": {"domain": [88.43, 122.87], "nice": false, "zero": false}, "axis": {"values": [90, 100, 110, 120], "title": "Solar zenith angle [ ˚ ]"}},
    "y": {"field": "lt", "type": "quantitative", "scale": {"domain": [20, 23], "nice": false, "zero": false}, "axis": {"values": [20, 21, 22, 23], "format": "d", "title": "Local Time [hr]"}},
    "color": {"field": "s", "type": "nominal", "scale": {"domain": ["0036 UT","0413 UT","1126 UT","1503 UT","1840 UT","2217 UT"], "range": ["#000000","#ff0000","#0000ff","#008000","#bf00bf","#8c564b"]}, "legend": null}
   }
  }
 ]
}
]
}
